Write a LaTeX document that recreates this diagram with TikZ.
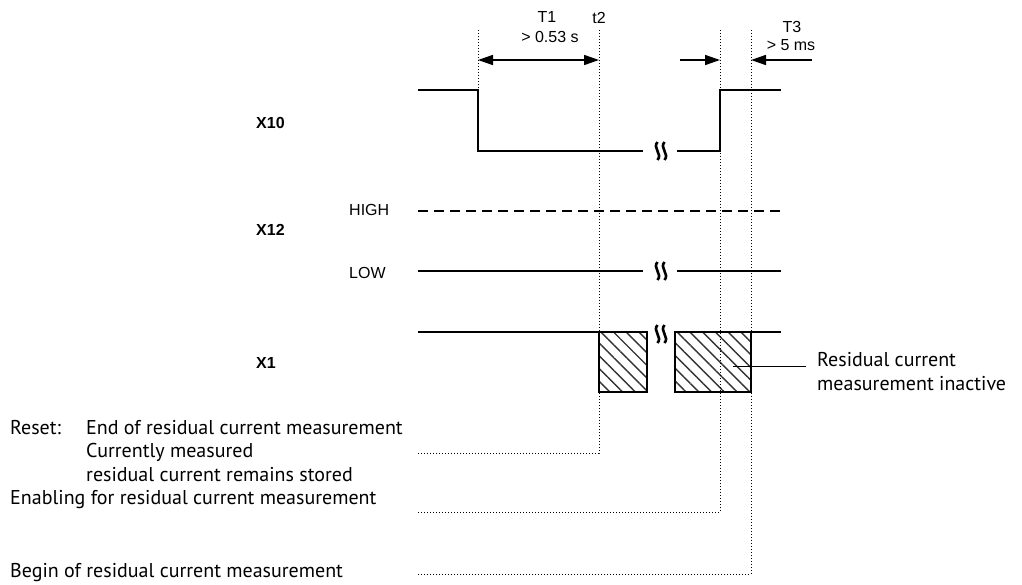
\documentclass[tikz,border=0pt]{standalone}
\usepackage{fontspec}
\setmainfont{Liberation Sans}
\newfontfamily\notefont{PT Sans}
\usetikzlibrary{arrows.meta,patterns.meta,positioning}

\tikzset{
  sig/.style={line width=2.4pt},
  guide/.style={line width=0.9pt,dash pattern=on 1pt off 2pt},
  highline/.style={line width=1.5pt,dash pattern=on 10pt off 6pt},
  dim/.style={line width=1.6pt},
  tip/.style={-{Triangle[length=15pt,width=10pt]}},
  lbl/.style={font=\fontsize{16}{18}\selectfont,inner sep=0pt},
  chan/.style={font=\bfseries\fontsize{16}{18}\selectfont,inner sep=0pt,anchor=west},
  note/.style={font=\notefont\fontsize{20}{22}\selectfont,inner sep=0pt,anchor=west},
  inactive/.style={draw,line width=1.2pt,pattern color=black!80,
    pattern={Lines[angle=-45,distance=9pt,line width=1.4pt]}},
  brk/.pic={
    \draw[line width=2.6pt] (-3.5,-9) .. controls (-9,-3) and (2,3) .. (-3.5,9);
    \draw[line width=2.6pt] (3.5,-9) .. controls (-2,-3) and (9,3) .. (3.5,9);
  }
}

\begin{document}
\begin{tikzpicture}[x=1pt,y=-1pt]
  \useasboundingbox (0,0) rectangle (1022,584);

  % time marks
  \coordinate (fall) at (478,30);
  \coordinate (reset) at (599,30);
  \coordinate (enable) at (720,30);
  \coordinate (begin) at (751,30);

  % channel labels
  \node[chan] (x10) at (256,123) {X10};
  \node[chan] (x12) at (256,230) {X12};
  \node[chan] (x1) at (256,363) {X1};
  \node[lbl,anchor=west] (high) at (349,210) {HIGH};
  \node[lbl,anchor=west] (low) at (349,273) {LOW};

  % X1: inactive phases
  \draw[inactive] (599,332) rectangle (647,392);
  \draw[inactive] (675,332) rectangle (751,392);

  % X10
  \draw[sig] (418,90) -- (478,90) -- (478,151) -- (643,151);
  \draw[sig] (677,151) -- (720,151) -- (720,90) -- (781,90);
  \pic at (661,151) {brk};
  % X12
  \draw[highline] (418,211) -- (781,211);
  \draw[sig] (418,271) -- (643,271);
  \draw[sig] (677,271) -- (781,271);
  \pic at (661,271) {brk};
  % X1
  \draw[sig] (418,332) -- (648,332);
  \draw[sig] (674,332) -- (781,332);
  \pic at (661,334) {brk};

  % guide lines
  \draw[guide] (fall) -- (478,90);
  \draw[guide] (reset) |- (418,453) coordinate (resetend);
  \draw[guide] (enable) |- (418,512) coordinate (enableend);
  \draw[guide] (begin) |- (418,574) coordinate (beginend);

  % times
  \draw[dim,{Triangle[length=15pt,width=10pt]}-{Triangle[length=15pt,width=10pt]}]
    (478,60) -- (599,60);
  \draw[dim,tip] (680,60) -- (720,60);
  \draw[dim,tip] (812,60) -- (751,60);
  \node[lbl] (t1) at (547,17) {T1};
  \node[lbl] (t1val) at (550,37) {> 0.53 s};
  \node[lbl] (t2) at (599,18) {t2};
  \node[lbl] (t3) at (792,27) {T3};
  \node[lbl] (t3val) at (791,45) {> 5 ms};

  % notes
  \node[note] (inact) at (817,360) {Residual current};
  \node[note] (inact2) at (817,384) {measurement inactive};
  \draw[line width=1pt] (733,366) -- (806,366);

  \node[note] (resetlbl) at (10,428) {Reset:};
  \node[note] (resetl1) at (86,428) {End of residual current measurement};
  \node[note] (resetl2) at (86,452) {Currently measured};
  \node[note] (resetl3) at (86,475) {residual current remains stored};
  \node[note] (enablelbl) at (10,500) {Enabling for residual current measurement};
  \node[note] (beginlbl) at (10,573) {Begin of residual current measurement};
\end{tikzpicture}
\end{document}
